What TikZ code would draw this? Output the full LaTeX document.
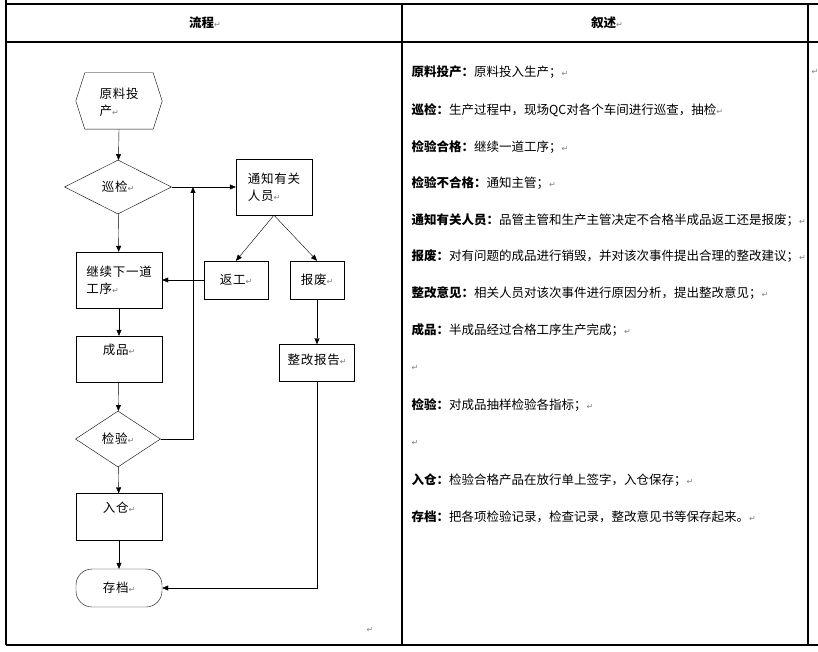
\documentclass[tikz,border=0pt]{standalone}
\usepackage{fontspec}
\setmainfont{Noto Sans CJK SC}
\newfontfamily\symfont{DejaVu Sans}
\usetikzlibrary{shapes.geometric,arrows.meta}
% paragraph mark, as printed in the table
\newcommand{\ret}{{\symfont\color{gray}\fontsize{8}{8}\selectfont ↵}}
% one line of the right column: name, position, bold label, text
\newcommand{\descline}[4]{%
 \node ({#1}) [anchor=west] at ({#2}) {\textbf{#3}#4\ret};%
}
\tikzset{
  rule/.style={line width=1.1pt},
  chart/.style={font=\fontsize{12.5}{17}\selectfont\addfontfeature{LetterSpace=6}},
  proc/.style={draw, rectangle, inner sep=2pt, align=left, chart},
  decision/.style={draw, diamond, inner sep=0pt, minimum width=107pt, minimum height=54pt, chart},
  flow/.style={->, >={Triangle[length=6pt,width=5pt]}},
}

\begin{document}
\begin{tikzpicture}[x=1pt, y=-1pt, every node/.style={font=\fontsize{12.5}{17}\selectfont}]
   \useasboundingbox (0,0) rectangle (818,652);
   % table
   \draw[rule] (6,0) -- (6,645);
   \draw[rule] (6,4) -- (818,4);
   \draw[rule] (6,42) -- (818,42);
   \draw[rule] (6,645) -- (818,645);
   \draw[rule] (402,4) -- (402,645);
   \draw[rule] (808,4) -- (808,645);
   \node (hflow) at (205,23) {\textbf{流程}\ret};
   \node (hdesc) at (607,23) {\textbf{叙述}\ret};
   % flow chart
   \node (start) [chart, minimum width=86pt, minimum height=56pt, inner sep=0pt, align=left] at (119,102) {原料投\\产\ret};
   \draw ([yshift=1pt]start.west) -- ([xshift=9pt,yshift=1pt]start.north west) -- ([xshift=-9pt,yshift=1pt]start.north east)
         -- ([yshift=1pt]start.east) -- ([xshift=-9pt,yshift=1pt]start.south east) -- ([xshift=9pt,yshift=1pt]start.south west) -- cycle;
   \node (patrol) [decision] at (118,187) {巡检\ret};
   \node (notify) [proc, minimum width=76pt, minimum height=56pt] at (274,187) {通知有关\\人员\ret};
   \node (rework) [proc, minimum width=64pt, minimum height=38pt] at (236,280) {返工\ret};
   \node (scrap) [proc, minimum width=54pt, minimum height=38pt] at (317,280) {报废\ret};
   \node (next) [proc, minimum width=86pt, minimum height=56pt] at (119,280) {继续下一道\\工序\ret};
   \node (report) [proc, minimum width=75pt, minimum height=37pt, text height=10pt, text depth=8pt] at (317,363) {整改报告\ret};
   \node (product) [proc, minimum width=86pt, minimum height=46pt, text height=10pt, text depth=20pt] at (119,359) {成品\ret};
   \node (check) [decision, minimum width=85pt, minimum height=56pt] at (118,439) {检验\ret};
   \node (store) [proc, minimum width=86pt, minimum height=47pt, text height=10pt, text depth=20pt] at (119,517) {入仓\ret};
   \node (archive) [draw, chart, rounded corners=16pt, minimum width=86pt, minimum height=38pt] at (119,588) {存档\ret};
   \coordinate (back) at (193,439);
   \coordinate (join) at (193,187);
   \coordinate (low) at (317,588);
   \node (mark) at (370,630) {\ret};
   \draw[flow] ([yshift=1pt]start.south) -- (patrol);
   \draw[flow] (patrol) -- (notify);
   \draw[flow] (notify.south) -- (rework.north);
   \draw[flow] (notify.south) -- (scrap.north);
   \draw[flow] (rework) -- (next);
   \draw[flow] (patrol) -- (next);
   \draw[flow] (next) -- (product);
   \draw[flow] (product) -- (check);
   \draw[flow] (check.east) -- (back) -- (join);
   \draw[flow] (check) -- (store);
   \draw[flow] (store) -- (archive);
   \draw[flow] (scrap) -- (report);
   \draw[flow] (report) -- (low) -- (archive);
   % description column
   \descline{d1}{408,72}{原料投产：}{原料投入生产；};
   \descline{d2}{408,110}{巡检：}{生产过程中，现场QC对各个车间进行巡查，抽检};
   \descline{d3}{408,147}{检验合格：}{继续一道工序；};
   \descline{d4}{408,183}{检验不合格：}{通知主管；};
   \descline{d5}{408,220}{通知有关人员：}{品管主管和生产主管决定不合格半成品返工还是报废；};
   \descline{d6}{408,256}{报废：}{对有问题的成品进行销毁，并对该次事件提出合理的整改建议；};
   \descline{d7}{408,293}{整改意见：}{相关人员对该次事件进行原因分析，提出整改意见；};
   \descline{d8}{408,330}{成品：}{半成品经过合格工序生产完成；};
   \node (e1) [anchor=west] at (408,368) {\ret};
   \descline{d9}{408,405}{检验：}{对成品抽样检验各指标；};
   \node (e2) [anchor=west] at (408,443) {\ret};
   \descline{d10}{408,480}{入仓：}{检验合格产品在放行单上签字，入仓保存；};
   \descline{d11}{408,517}{存档：}{把各项检验记录，检查记录，整改意见书等保存起来。};
   \node (e3) at (815,72) {\ret};
\end{tikzpicture}
\end{document}
